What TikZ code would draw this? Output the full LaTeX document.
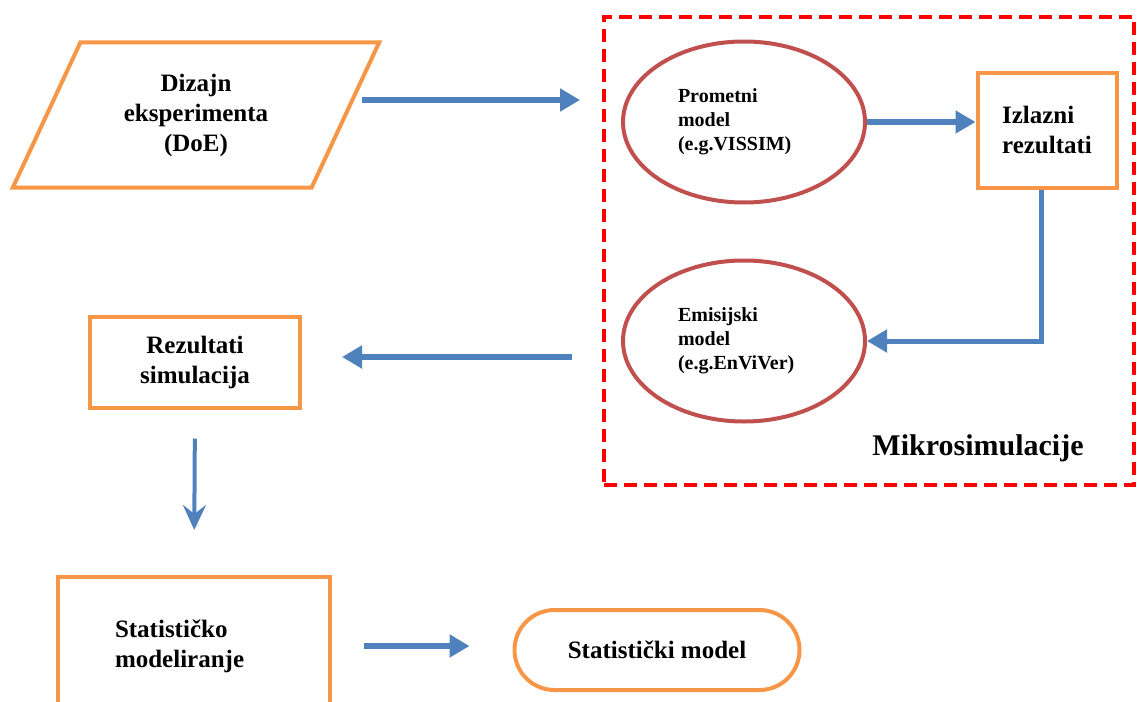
\documentclass[tikz,border=0pt]{standalone}
\usepackage{fontspec}
\setmainfont{Liberation Serif}
\usepackage{tikz}
\usetikzlibrary{shapes.geometric,arrows.meta}

\definecolor{boxorange}{HTML}{F79646}
\definecolor{ovalred}{HTML}{C0504D}
\definecolor{flowblue}{HTML}{4F81BD}

\tikzset{
  box/.style={draw=boxorange, line width=4pt, inner sep=0pt,
    font=\bfseries\fontsize{25}{30}\selectfont},
  doebox/.style={box, trapezium, trapezium left angle=63, trapezium right angle=117,
    trapezium stretches=true, align=center},
  model/.style={ellipse, draw=ovalred, line width=4pt, inner sep=0pt, align=left, text width=132pt,
    minimum width=242pt, minimum height=161pt, font=\bfseries\fontsize{20}{24}\selectfont},
  frame/.style={draw=red, line width=4pt, dash pattern=on 13pt off 7pt},
  flow/.style={draw=flowblue, line width=6pt, -{Triangle[width=22pt,length=20pt]}},
}

\begin{document}
\begin{tikzpicture}[x=1pt,y=-1pt]
  \useasboundingbox (0,0) rectangle (1137,701);

  \node[frame, minimum width=530pt, minimum height=468pt] (micro) at (869,251) {};
  \node[font=\bfseries\fontsize{30}{36}\selectfont] (mikrolabel) at (978,448) {Mikrosimulacije};

  \node[doebox, minimum width=367pt, minimum height=145pt] (doe) at (196,115) {Dizajn\\eksperimenta\\(DoE)};
  \node[model] (prom) at (744,122) {Prometni\\model\\(e.g.VISSIM)};
  \node[box, align=left, minimum width=139pt, minimum height=115pt] (izlaz) at (1047,130) {Izlazni\\rezultati};
  \node[model] (emis) at (744,341) {Emisijski\\model\\(e.g.EnViVer)};
  \node[box, align=center, minimum width=210pt, minimum height=91pt] (rez) at (195,362) {Rezultati\\simulacija};
  \node[box, align=left, text width=158pt, minimum width=272pt, minimum height=138pt] (stat) at (194,646) {Statističko\\modeliranje};
  \node[box, rounded corners=40pt, minimum width=285pt, minimum height=80pt] (statmodel) at (657,650) {Statistički model};

  \coordinate (a1) at (362,100);
  \coordinate (a3) at (572,357);
  \draw[flow, shorten >=22pt] (a1) -- (a1 -| micro.west);
  \draw[flow] (prom.east) -- (prom.east -| izlaz.west);
  \draw[flow, line width=5pt] ([xshift=-6pt]izlaz.south) |- (emis.east);
  \draw[flow, shorten >=40pt] (a3) -- (a3 -| rez.east);
  \draw[flow, line width=4pt, -{Stealth[width=23pt,length=25pt,inset=9pt]},
    shorten <=29pt, shorten >=45pt] (rez.south) -- (stat.north);
  \draw[flow, shorten <=32pt, shorten >=43pt] (stat.east) -- (stat.east -| statmodel.west);
\end{tikzpicture}
\end{document}
